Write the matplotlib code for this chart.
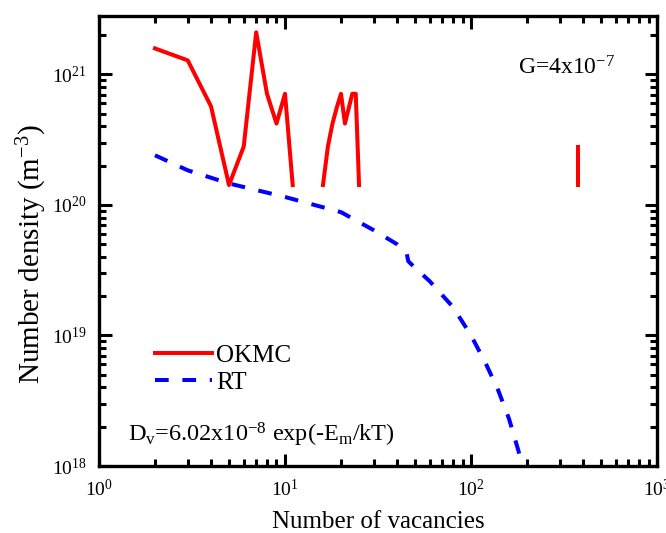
import matplotlib
matplotlib.use("Agg")
import matplotlib.pyplot as plt
from matplotlib.ticker import LogLocator, LogFormatterMathtext, NullFormatter

plt.rcParams["font.family"] = ["Liberation Serif", "DejaVu Serif"]
plt.rcParams["mathtext.fontset"] = "custom"
plt.rcParams["mathtext.rm"] = "Liberation Serif"
plt.rcParams["mathtext.it"] = "Liberation Serif:italic"

# OKMC: cluster size and number density (m^-3), gaps mark sizes with no clusters
okmc_n1 = [2, 3, 4, 5, 6, 7, 8, 9, 10, 11]
okmc_d1 = [1.58e21, 1.28e21, 5.7e20, 1.42e20, 2.8e20, 2.1e21, 7.1e20, 4.2e20, 7.1e20, 1.42e20]
okmc_n2 = [16, 17, 18, 19, 20, 21, 23, 24, 25]
okmc_d2 = [1.42e20, 2.8e20, 4.2e20, 5.6e20, 7.1e20, 4.2e20, 7.1e20, 7.1e20, 1.42e20]
okmc_n3 = [377, 377]
okmc_d3 = [1.42e20, 2.8e20]

# rate theory
rt_n = [2, 3, 5, 10, 20, 30, 40, 45, 46, 50, 60, 80, 100, 120, 140, 160, 180, 190]
rt_d = [2.4e20, 1.84e20, 1.46e20, 1.15e20, 8.8e19, 6.4e19, 5.0e19, 4.3e19, 3.7e19,
        3.3e19, 2.6e19, 1.65e19, 1.0e19, 6.1e18, 3.8e18, 2.3e18, 1.3e18, 0.95e18]

fig = plt.figure(figsize=(6.66, 5.33), dpi=100)
ax = fig.add_axes([0.1486, 0.1257, 0.838, 0.8443])

red = "#ff0000"
ax.plot(okmc_n1, okmc_d1, color=red, lw=2.9, label="OKMC")
ax.plot(okmc_n2, okmc_d2, color=red, lw=2.9)
ax.plot(okmc_n3, okmc_d3, color=red, lw=2.9)
ax.plot(rt_n, rt_d, color="#0000ff", lw=2.9, dashes=(3.4, 3.4), label="RT")

ax.set_xscale("log")
ax.set_yscale("log")
ax.set_xlim(1, 1000)
ax.set_ylim(1e18, 2.8e21)

for a in (ax.xaxis, ax.yaxis):
    a.set_major_locator(LogLocator(base=10))
    a.set_major_formatter(LogFormatterMathtext())
    a.set_minor_locator(LogLocator(base=10, subs=range(2, 10)))
    a.set_minor_formatter(NullFormatter())

ax.tick_params(which="both", direction="in", top=True, right=True, width=2.2)
ax.tick_params(which="major", length=9, labelsize=14, pad=9)
ax.tick_params(which="minor", length=5)
for s in ax.spines.values():
    s.set_linewidth(2.4)

ax.set_xlabel("Number of vacancies", fontsize=18, labelpad=8)
ax.set_ylabel("Number density (m$^{-3}$)", fontsize=21)
ax.yaxis.set_label_coords(-0.09, 0.47)

ax.text(0.75, 0.87, "G=4x10$^{-7}$", transform=ax.transAxes, fontsize=17)
ax.text(0.052, 0.055, "D$_\\mathrm{v}$=6.02x10$^{-8}$ exp(-E$_\\mathrm{m}$/kT)",
        transform=ax.transAxes, fontsize=17.5)

ax.legend(loc="lower left", bbox_to_anchor=(0.06, 0.11), frameon=False, fontsize=18,
          handlelength=2.3, handletextpad=0.15, labelspacing=0.2)

fig.savefig("out.png", dpi=100)
